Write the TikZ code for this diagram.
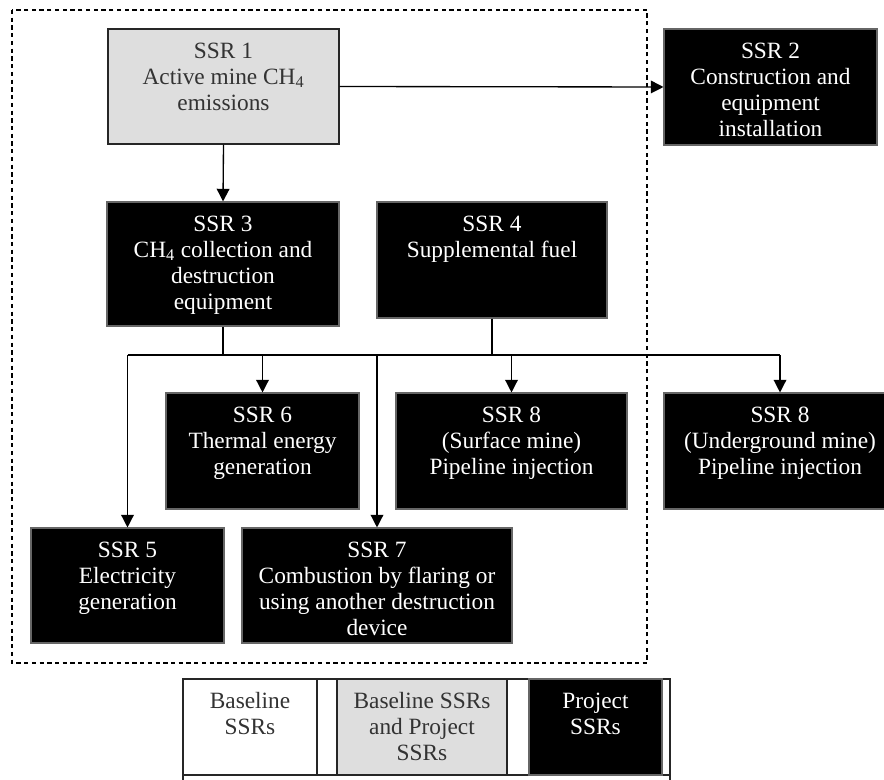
\documentclass[tikz,border=0pt]{standalone}
\usepackage{fontspec}
\setmainfont{Liberation Serif}
\usepackage{tikz}
\usetikzlibrary{positioning,arrows.meta}

\tikzset{
  ssr/.style={draw=black!60, line width=0.8pt, fill=black, inner sep=0pt},
  both/.style={draw=black!85, line width=1pt, fill=black!13, inner sep=0pt},
  base/.style={draw=black!85, line width=1pt, fill=white, inner sep=0pt},
  boxsize/.style 2 args={minimum width=#1*0.75pt, minimum height=#2*0.75pt},
  wtxt/.style={text=white, align=center, inner sep=0pt, font=\fontsize{17.5}{19.5}\selectfont},
  ktxt/.style={wtxt, text=black!80},
  link/.style={line width=1pt, -{Triangle[width=9.5pt,length=9.5pt]}},
  wire/.style={line width=1pt},
}

\begin{document}
\begin{tikzpicture}[x=0.75pt, y=-0.75pt]
  \useasboundingbox (0,0) rectangle (884,780);

  % Project boundary
  \draw[line width=0.8pt, dash pattern=on 3.2pt off 2.6pt] (12,10) rectangle (647,663);

  % Top row
  \node[both, boxsize={231}{115}] (s1) at (223.5,86.5) {};
  \node[ktxt, below=10.5pt of s1.north] (s1t) {SSR 1\\Active mine CH\textsubscript{4}\\emissions};
  \node[ssr, boxsize={213}{116}] (s2) at (770.5,87) {};
  \node[wtxt, below=10.5pt of s2.north] (s2t) {SSR 2\\Construction and\\equipment\\installation};

  % Second row
  \node[ssr, boxsize={232}{124}] (s3) at (223,264) {};
  \node[wtxt, below=10.5pt of s3.north] (s3t) {SSR 3\\CH\textsubscript{4} collection and\\destruction\\equipment};
  \node[ssr, boxsize={230}{116}] (s4) at (492,260) {};
  \node[wtxt, below=10.5pt of s4.north] (s4t) {SSR 4\\Supplemental fuel};

  % Third row
  \node[ssr, boxsize={193}{116}] (s6) at (262.5,451) {};
  \node[wtxt, below=10.5pt of s6.north] (s6t) {SSR 6\\Thermal energy\\generation};
  \node[ssr, boxsize={231}{116}] (s8a) at (511.5,451) {};
  \node[wtxt, below=10.5pt of s8a.north] (s8at) {SSR 8\\(Surface mine)\\Pipeline injection};
  \node[ssr, boxsize={232}{116}] (s8b) at (780,451) {};
  \node[wtxt, below=10.5pt of s8b.north] (s8bt) {SSR 8\\(Underground mine)\\Pipeline injection};

  % Bottom row
  \node[ssr, boxsize={193}{115}] (s5) at (127.5,585.5) {};
  \node[wtxt, below=10.5pt of s5.north] (s5t) {SSR 5\\Electricity\\generation};
  \node[ssr, boxsize={270}{115}] (s7) at (377,585.5) {};
  \node[wtxt, below=10.5pt of s7.north] (s7t) {SSR 7\\Combustion by flaring or\\using another destruction\\device};

  % Arrows
  \draw[link] (s1.east) -- (s2.west);
  \draw[link] (s1.south) -- (s3.north);
  \coordinate (bus) at (0,355);
  \draw[wire] (s3.south) -- (s3.south |- bus);
  \draw[wire] (s4.south) -- (s4.south |- bus);
  \draw[wire] (s5.north |- bus) -- (s8b.north |- bus);
  \draw[link] (s5.north |- bus) -- (s5.north);
  \draw[link] (s6.north |- bus) -- (s6.north);
  \draw[link] (s7.north |- bus) -- (s7.north);
  \draw[link] (s8a.north |- bus) -- (s8a.north);
  \draw[link] (s8b.north |- bus) -- (s8b.north);

  % Legend
  \draw[line width=1pt, draw=black!85] (183,795) -- (183,679) -- (670,679) -- (670,795);
  \draw[line width=1pt, draw=black!85] (183,775) -- (670,775);
  \node[base, boxsize={134}{96}] (lb) at (250,727) {};
  \node[ktxt, below=10.5pt of lb.north] (lbt) {Baseline\\SSRs};
  \node[both, boxsize={170}{96}] (lg) at (422,727) {};
  \node[ktxt, below=10.5pt of lg.north] (lgt) {Baseline SSRs\\and Project\\SSRs};
  \node[ssr, boxsize={133}{96}] (lp) at (595.5,727) {};
  \node[wtxt, below=10.5pt of lp.north] (lpt) {Project\\SSRs};
\end{tikzpicture}
\end{document}
